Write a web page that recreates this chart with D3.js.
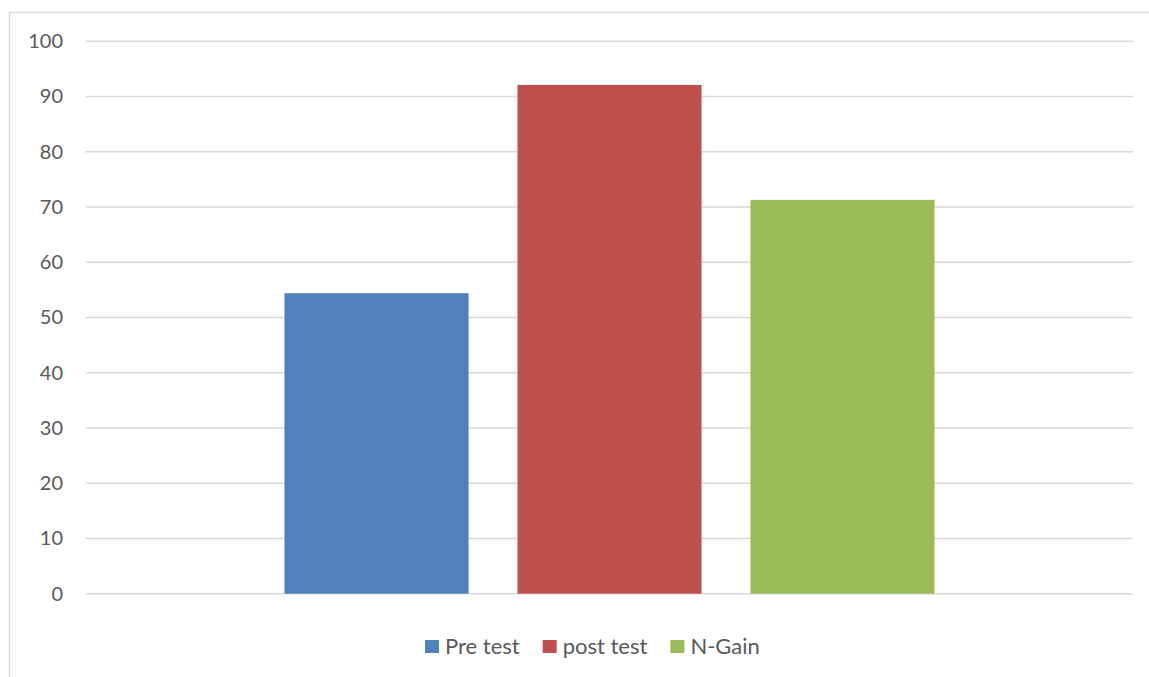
<!DOCTYPE html>
<html>
<head>
<meta charset="utf-8">
<script src="https://d3js.org/d3.v7.min.js"></script>
<style>
  body { margin: 0; background: #fff; }
  text { font-family: Lato, "Open Sans", sans-serif; fill: #595959; }
</style>
</head>
<body>
<svg id="chart" width="1149" height="677"></svg>
<script>
// data
var series = ["Pre test", "post test", "N-Gain"];
var values = [54.4, 92.1, 71.3];
var colors = ["#4F81BD", "#C0504D", "#9BBB59"];
var yTicks = [0, 10, 20, 30, 40, 50, 60, 70, 80, 90, 100];

var svg = d3.select("#chart");

// outer chart border (runs off the right and bottom)
svg.append("rect")
  .attr("x", 9.5).attr("y", 12.5)
  .attr("width", 1200).attr("height", 700)
  .attr("fill", "none")
  .attr("stroke", "#d9d9d9")
  .attr("stroke-width", 1.5);

var plotL = 86, plotR = 1133, plotT = 41.3, plotB = 593.7;

var ys = d3.scaleLinear().domain([0, 100]).range([plotB, plotT]);
var xs = d3.scaleBand()
  .domain(series)
  .range([plotL, plotR])
  .paddingInner(0.21)
  .paddingOuter(0.852);

// gridlines
svg.append("g").selectAll("line")
  .data(yTicks)
  .enter().append("line")
  .attr("x1", plotL).attr("x2", plotR)
  .attr("y1", function(d) { return ys(d); })
  .attr("y2", function(d) { return ys(d); })
  .attr("stroke", "#d9d9d9")
  .attr("stroke-width", 1.5);

// y axis labels
var yAxis = svg.append("g")
  .attr("transform", "translate(" + plotL + ",0)")
  .call(d3.axisLeft(ys).tickValues(yTicks).tickSize(0).tickPadding(23));
yAxis.select(".domain").remove();
yAxis.selectAll("text")
  .style("font-family", "Lato, 'Open Sans', sans-serif")
  .style("font-size", "20px")
  .attr("fill", "#595959");

// bars
svg.append("g").selectAll("rect")
  .data(values)
  .enter().append("rect")
  .attr("x", function(d, i) { return xs(series[i]); })
  .attr("width", xs.bandwidth())
  .attr("y", function(d) { return ys(d); })
  .attr("height", function(d) { return ys(0) - ys(d); })
  .attr("fill", function(d, i) { return colors[i]; });

// legend
var legend = svg.append("g");
var lx = 425;
series.forEach(function(s, i) {
  legend.append("rect")
    .attr("x", lx).attr("y", 640)
    .attr("width", 14).attr("height", 13)
    .attr("fill", colors[i]);
  var t = legend.append("text")
    .attr("x", lx + 20).attr("y", 654)
    .attr("font-size", "22px")
    .text(s);
  lx += 20 + t.node().getComputedTextLength() + 23;
});
</script>
</body>
</html>
